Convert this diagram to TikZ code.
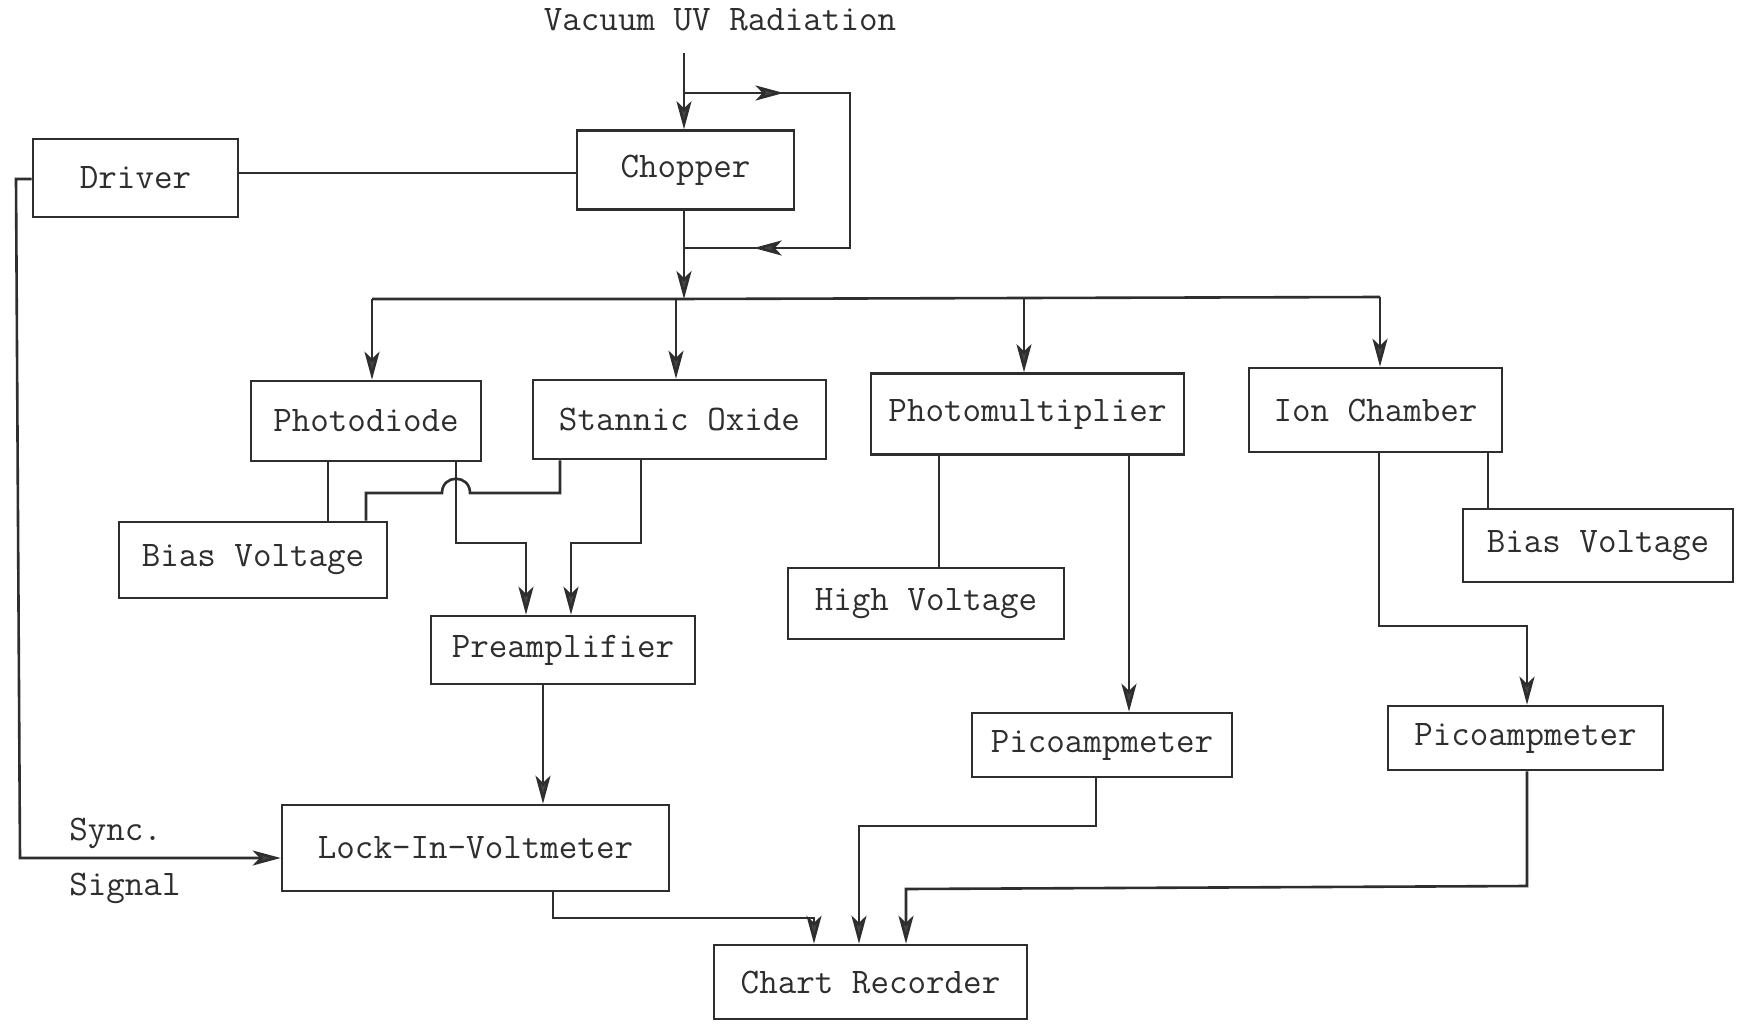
\documentclass[tikz,border=0pt]{standalone}
\usepackage{fontspec}
\usetikzlibrary{arrows.meta,calc}
\definecolor{ink}{HTML}{2E2E2E}
\definecolor{tip}{HTML}{454545}
\newcommand{\twfont}{\fontsize{36}{40}\selectfont\ttfamily\addfontfeatures{FakeBold=0.6}}
\begin{document}
\begin{tikzpicture}[x=1pt,y=-1pt,
  line width=2.6pt, draw=ink,
  box/.style={draw=ink, line width=2.6pt, inner sep=0pt, text=ink, font=\twfont},
  lbl/.style={inner sep=0pt, text=ink, font=\twfont},
  arr/.style={-{Stealth[length=28pt,width=15pt,inset=7pt,fill=tip]}},
  wire/.style={draw=ink, line width=2.6pt}]
\useasboundingbox (0,0) rectangle (1742,1027);
\fill[white] (0,0) rectangle (1742,1027);

% boxes
\node[box, minimum width=205pt, minimum height=78pt] (drv) at (135.5,178) {Driver};
\node[box, minimum width=217pt, minimum height=79pt] (chop) at (685.5,170) {Chopper};
\node[box, minimum width=230pt, minimum height=80pt] (pd) at (366,421) {Photodiode};
\node[box, minimum width=293pt, minimum height=79pt] (so) at (679.5,419.5) {Stannic Oxide};
\node[box, minimum width=313pt, minimum height=81pt] (pm) at (1027.5,414) {Photomultiplier};
\node[box, minimum width=253pt, minimum height=84pt] (ic) at (1375.5,410) {Ion Chamber};
\node[box, minimum width=268pt, minimum height=76pt] (bl) at (253,560) {Bias Voltage};
\node[box, minimum width=270pt, minimum height=73pt] (br) at (1598,545.5) {Bias Voltage};
\node[box, minimum width=276pt, minimum height=71pt] (hv) at (926,603.5) {High Voltage};
\node[box, minimum width=264pt, minimum height=68pt] (pa) at (563,650) {Preamplifier};
\node[box, minimum width=260pt, minimum height=64pt] (pc1) at (1102,745) {Picoampmeter};
\node[box, minimum width=275pt, minimum height=64pt] (pc2) at (1525.5,738) {Picoampmeter};
\node[box, minimum width=387pt, minimum height=86pt] (li) at (475.5,848) {Lock-In-Voltmeter};
\node[box, minimum width=313pt, minimum height=74pt] (cr) at (870.5,982) {Chart Recorder};

% labels
\node[lbl] (uv) at (720,20) {Vacuum UV Radiation};
\node[lbl, anchor=west] (sync) at (68,833) {Sync.};
\node[lbl, anchor=west] (sig) at (68,888) {Signal};

% coordinates
\coordinate (uvtop) at (684,53);
\coordinate (lt) at (684,93);
\coordinate (lr) at (850,93);
\coordinate (lb) at (850,248);
\coordinate (lbl) at (684,248);
\coordinate (busL) at (372,299);
\coordinate (busR) at (1380,297);
\coordinate (bS) at (676,299);
\coordinate (bP) at (1024,298);
\coordinate (dc) at (0,173);
\coordinate (sy) at (16,179);
\coordinate (sb) at (20,858);
\coordinate (xpb) at (328,0);
\coordinate (h1) at (366,493);
\coordinate (h2) at (442,493);
\coordinate (h3) at (470,493);
\coordinate (h4) at (560,493);
\coordinate (p1) at (456,543);
\coordinate (p2) at (526,543);
\coordinate (s1) at (641,543);
\coordinate (s2) at (571,543);
\coordinate (q) at (543,0);
\coordinate (l1) at (553,918);
\coordinate (l2) at (814,918);
\coordinate (m1) at (939,0);
\coordinate (m2) at (1129,0);
\coordinate (c1) at (1096,826);
\coordinate (c2) at (859,826);
\coordinate (i1) at (1488,0);
\coordinate (i2) at (1379,626);
\coordinate (i3) at (1527,626);
\coordinate (r1) at (1527,886);
\coordinate (r2) at (906,889);

% input and chopper loop
\draw[wire, arr] (uvtop) -- (uvtop |- chop.north);
\draw[wire] (lt) -- (lr) -- (lb) -- (lbl);
\draw[wire, arr] (lt) -- ($(lt)!0.6!(lr)$);
\draw[wire, arr] (lb) -- ($(lb)!0.58!(lbl)$);
\draw[wire, arr] (uvtop |- chop.south) -- (uvtop |- bS);

% bus
\draw[wire] (busL) -- (bS) -- (bP) -- (busR);
\draw[wire, arr] (busL) -- (busL |- pd.north);
\draw[wire, arr] (bS) -- (bS |- so.north);
\draw[wire, arr] (bP) -- (bP |- pm.north);
\draw[wire, arr] (busR) -- (busR |- ic.north);

% driver
\draw[wire] (drv.east |- dc) -- (chop.west |- dc);
\draw[wire, arr] (drv.west |- sy) -- (sy) -- (sb) -- (li.west |- sb);

% photodiode / stannic oxide
\draw[wire] (pd.south -| xpb) -- (bl.north -| xpb);
\draw[wire] (bl.north -| h1) -- (h1) -- (h2) .. controls +(0,-19) and +(0,-19) .. (h3) -- (h4) -- (so.south -| h4);
\draw[wire, arr] (pd.south -| p1) -- (p1) -- (p2) -- (p2 |- pa.north);
\draw[wire, arr] (so.south -| s1) -- (s1) -- (s2) -- (s2 |- pa.north);
\draw[wire, arr] (pa.south -| q) -- (li.north -| q);
\draw[wire, arr] (li.south -| l1) -- (l1) -- (l2) -- (l2 |- cr.north);

% photomultiplier
\draw[wire] (pm.south -| m1) -- (hv.north -| m1);
\draw[wire, arr] (pm.south -| m2) -- (pc1.north -| m2);
\draw[wire, arr] (pc1.south -| c1) -- (c1) -- (c2) -- (c2 |- cr.north);

% ion chamber
\draw[wire] (ic.south -| i1) -- (br.north -| i1);
\draw[wire, arr] (ic.south -| i2) -- (i2) -- (i3) -- (i3 |- pc2.north);
\draw[wire, arr] (pc2.south -| r1) -- (r1) -- (r2) -- (r2 |- cr.north);
\end{tikzpicture}
\end{document}
